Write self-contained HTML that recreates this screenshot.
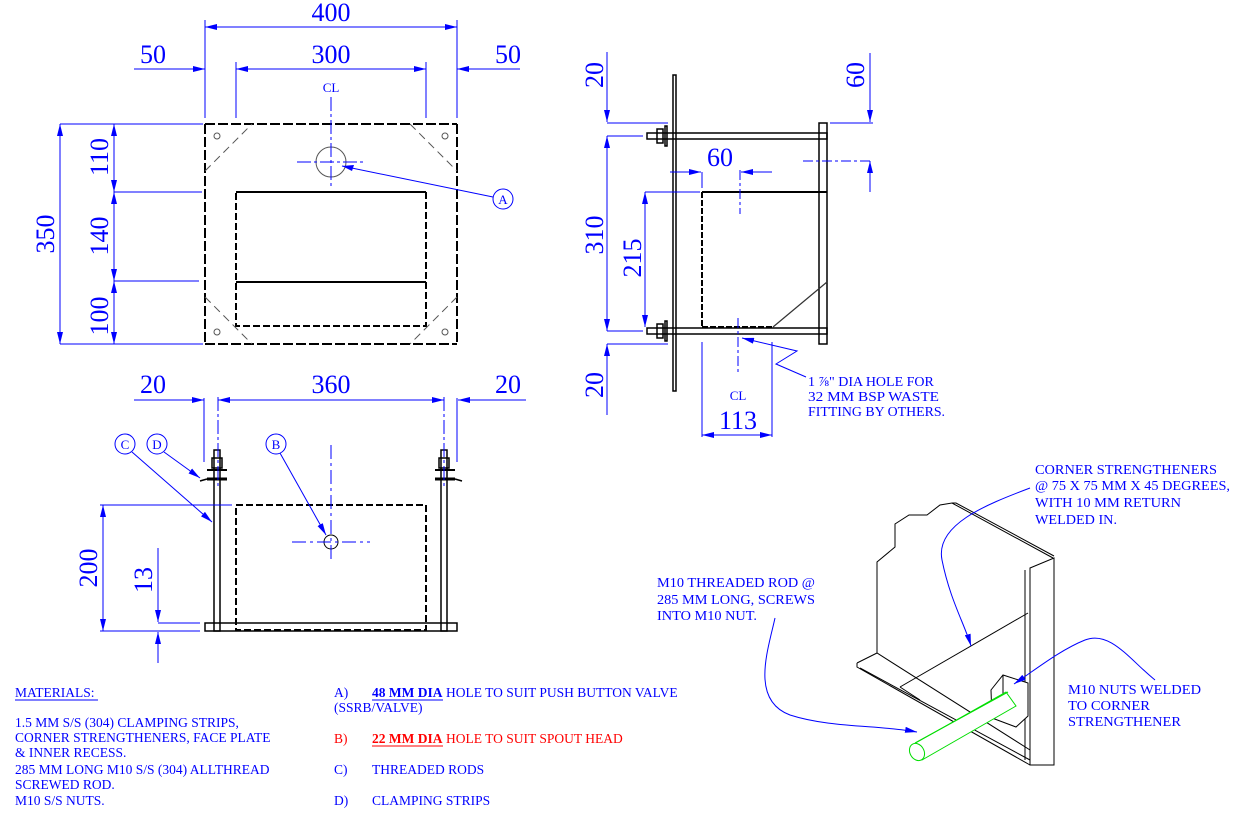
<!DOCTYPE html>
<html><head><meta charset="utf-8"><style>
html,body{margin:0;padding:0;background:#fff;}
svg{display:block;}
text{font-family:"Liberation Serif",serif;}
</style></head><body>
<svg width="1241" height="813" viewBox="0 0 1241 813" xmlns="http://www.w3.org/2000/svg">
<defs>
<marker id="ar" viewBox="0 0 12 6" refX="12" refY="3" markerWidth="12" markerHeight="6" markerUnits="userSpaceOnUse" orient="auto"><path d="M0,0 L12,3 L0,6 z" fill="#0000ff"/></marker>
</defs>

<!-- ============ FRONT VIEW ============ -->
<g fill="none" stroke="#000" stroke-width="2">
<line x1="205" y1="124" x2="457" y2="124" stroke-dasharray="10,3"/>
<line x1="205" y1="344" x2="457" y2="344" stroke-dasharray="10,3"/>
<line x1="205" y1="124" x2="205" y2="344" stroke-dasharray="10,3"/>
<line x1="457" y1="124" x2="457" y2="344" stroke-dasharray="10,3"/>
<rect x="236" y="192" width="190" height="134" stroke-dasharray="7,3"/>
<line x1="236" y1="282" x2="426" y2="282"/>
<line x1="236" y1="192" x2="426" y2="192"/>
</g>
<g fill="none" stroke="#555" stroke-width="1">
<line x1="205" y1="171" x2="252" y2="124" stroke-dasharray="8,5"/>
<line x1="410" y1="124" x2="457" y2="171" stroke-dasharray="8,5"/>
<line x1="205" y1="297" x2="252" y2="344" stroke-dasharray="8,5"/>
<line x1="457" y1="297" x2="410" y2="344" stroke-dasharray="8,5"/>
<circle cx="217" cy="136" r="3"/><circle cx="445" cy="136" r="3"/>
<circle cx="217" cy="332" r="3"/><circle cx="445" cy="332" r="3"/>
<circle cx="331" cy="162" r="15"/>
</g>
<g fill="none" stroke="#0000ff" stroke-width="1">
<line x1="331" y1="97" x2="331" y2="186" stroke-dasharray="14,3,3,3"/>
<line x1="297" y1="162" x2="366" y2="162" stroke-dasharray="14,3,3,3"/>
<line x1="342" y1="166" x2="493" y2="197"/>
<circle cx="503" cy="199" r="10"/>
<line x1="205" y1="20" x2="205" y2="118"/><line x1="457" y1="20" x2="457" y2="118"/>
<line x1="236" y1="62" x2="236" y2="118"/><line x1="426" y1="62" x2="426" y2="118"/>
<line x1="331" y1="27" x2="205" y2="27" marker-end="url(#ar)"/>
<line x1="331" y1="27" x2="457" y2="27" marker-end="url(#ar)"/>
<line x1="331" y1="69" x2="236" y2="69" marker-end="url(#ar)"/>
<line x1="331" y1="69" x2="426" y2="69" marker-end="url(#ar)"/>
<line x1="134" y1="69" x2="205" y2="69" marker-end="url(#ar)"/>
<line x1="520" y1="69" x2="457" y2="69" marker-end="url(#ar)"/>
<line x1="60" y1="124" x2="203" y2="124"/><line x1="60" y1="344" x2="203" y2="344"/>
<line x1="114" y1="192" x2="202" y2="192"/><line x1="114" y1="281" x2="199" y2="281"/>
<line x1="60" y1="234" x2="60" y2="124" marker-end="url(#ar)"/>
<line x1="60" y1="234" x2="60" y2="344" marker-end="url(#ar)"/>
<line x1="114" y1="158" x2="114" y2="124" marker-end="url(#ar)"/>
<line x1="114" y1="158" x2="114" y2="192" marker-end="url(#ar)"/>
<line x1="114" y1="236" x2="114" y2="192" marker-end="url(#ar)"/>
<line x1="114" y1="236" x2="114" y2="281" marker-end="url(#ar)"/>
<line x1="114" y1="312" x2="114" y2="281" marker-end="url(#ar)"/>
<line x1="114" y1="312" x2="114" y2="344" marker-end="url(#ar)"/>
</g>
<polygon points="342,166 354,165 352,171" fill="#0000ff"/>
<g fill="#0000ff" font-size="26">
<text x="331" y="21" text-anchor="middle">400</text>
<text x="331" y="63" text-anchor="middle">300</text>
<text x="153" y="63" text-anchor="middle">50</text>
<text x="508" y="63" text-anchor="middle">50</text>
<text transform="translate(54,234) rotate(-90)" text-anchor="middle">350</text>
<text transform="translate(108,157) rotate(-90)" text-anchor="middle">110</text>
<text transform="translate(108,236) rotate(-90)" text-anchor="middle">140</text>
<text transform="translate(108,316) rotate(-90)" text-anchor="middle">100</text>
</g>
<g fill="#0000ff" font-size="13">
<text x="331" y="92" text-anchor="middle">CL</text>
<text x="503" y="204" text-anchor="middle">A</text>
</g>

<!-- ============ SIDE VIEW ============ -->
<g fill="none" stroke="#000" stroke-width="1.5">
<rect x="673" y="75" width="3" height="316"/>
<rect x="647" y="133" width="180" height="6"/>
<rect x="647" y="328" width="180" height="6"/>
<rect x="819" y="123" width="8" height="221"/>
<rect x="657" y="129" width="6" height="14"/><rect x="665" y="126" width="2" height="20"/>
<rect x="657" y="324" width="6" height="14"/><rect x="665" y="321" width="2" height="20"/>
<line x1="702" y1="192" x2="827" y2="192" stroke-width="2"/>
<line x1="702" y1="192" x2="702" y2="327" stroke-dasharray="6,2" stroke-width="2"/>
<line x1="702" y1="327" x2="773" y2="327" stroke-dasharray="6,2" stroke-width="2"/>
<line x1="773" y1="327" x2="827" y2="282" stroke-width="1.2" stroke="#333"/>
</g>
<g fill="none" stroke="#0000ff" stroke-width="1">
<line x1="607" y1="52" x2="607" y2="122" marker-end="url(#ar)"/>
<line x1="607" y1="123" x2="668" y2="123"/>
<line x1="607" y1="136" x2="643" y2="136"/>
<line x1="607" y1="331" x2="643" y2="331"/>
<line x1="607" y1="235" x2="607" y2="136" marker-end="url(#ar)"/>
<line x1="607" y1="235" x2="607" y2="331" marker-end="url(#ar)"/>
<line x1="607" y1="344" x2="668" y2="344"/>
<line x1="607" y1="415" x2="607" y2="344" marker-end="url(#ar)"/>
<line x1="645" y1="192" x2="700" y2="192"/>
<line x1="645" y1="258" x2="645" y2="192" marker-end="url(#ar)"/>
<line x1="645" y1="258" x2="645" y2="327" marker-end="url(#ar)"/>
<line x1="870" y1="53" x2="870" y2="122" marker-end="url(#ar)"/>
<line x1="830" y1="123" x2="873" y2="123"/>
<line x1="870" y1="192" x2="870" y2="161" marker-end="url(#ar)"/>
<line x1="803" y1="161" x2="873" y2="161" stroke-dasharray="10,3,3,3"/>
<line x1="670" y1="172" x2="701" y2="172" marker-end="url(#ar)"/>
<line x1="702" y1="172" x2="702" y2="188"/>
<line x1="772" y1="172" x2="741" y2="172" marker-end="url(#ar)"/>
<line x1="740" y1="170" x2="740" y2="214" stroke-dasharray="10,3,3,3"/>
<line x1="738" y1="318" x2="738" y2="373" stroke-dasharray="10,3,3,3"/>
<line x1="702" y1="342" x2="702" y2="437"/>
<line x1="772" y1="342" x2="772" y2="437"/>
<line x1="738" y1="435" x2="702" y2="435" marker-end="url(#ar)"/>
<line x1="738" y1="435" x2="772" y2="435" marker-end="url(#ar)"/>
<polyline points="806,377 776,364 797,351 742,338" marker-end="url(#ar)"/>
</g>
<g fill="#0000ff" font-size="26">
<text transform="translate(603,75) rotate(-90)" text-anchor="middle">20</text>
<text transform="translate(603,235) rotate(-90)" text-anchor="middle">310</text>
<text transform="translate(603,385) rotate(-90)" text-anchor="middle">20</text>
<text transform="translate(641,258) rotate(-90)" text-anchor="middle">215</text>
<text transform="translate(864,75) rotate(-90)" text-anchor="middle">60</text>
<text x="720" y="166" text-anchor="middle">60</text>
<text x="738" y="429" text-anchor="middle">113</text>
</g>
<g fill="#0000ff" font-size="14">
<text x="738" y="400" text-anchor="middle" font-size="13">CL</text>
<text x="808" y="386">1 ⅞" DIA HOLE FOR</text>
<text x="808" y="401" textLength="131" lengthAdjust="spacingAndGlyphs">32 MM BSP WASTE</text>
<text x="808" y="416" textLength="137" lengthAdjust="spacingAndGlyphs">FITTING BY OTHERS.</text>
</g>

<!-- ============ BOTTOM VIEW ============ -->
<g fill="none" stroke="#000" stroke-width="1.5">
<rect x="205" y="623" width="252" height="8"/>
<rect x="214" y="450" width="6" height="181"/>
<rect x="441" y="450" width="6" height="181"/>
<rect x="212" y="458" width="10" height="10"/>
<rect x="439" y="458" width="10" height="10"/>
<line x1="207" y1="470" x2="227" y2="470" stroke-width="2"/>
<line x1="207" y1="479" x2="227" y2="479" stroke-width="3"/>
<line x1="435" y1="470" x2="455" y2="470" stroke-width="2"/>
<line x1="435" y1="479" x2="455" y2="479" stroke-width="3"/>
<line x1="200" y1="481" x2="207" y2="479"/>
<line x1="455" y1="479" x2="462" y2="481"/>
<rect x="236" y="505" width="190" height="125" stroke-dasharray="7,3" stroke-width="2"/>
<circle cx="331" cy="542" r="7" stroke-width="1"/>
</g>
<g fill="none" stroke="#0000ff" stroke-width="1">
<line x1="331" y1="445" x2="331" y2="563" stroke-dasharray="14,4,3,4"/>
<line x1="292" y1="542" x2="370" y2="542" stroke-dasharray="14,4,3,4"/>
<line x1="134" y1="400" x2="204" y2="400" marker-end="url(#ar)"/>
<line x1="204" y1="398" x2="204" y2="462"/>
<line x1="218" y1="397" x2="218" y2="488" stroke-dasharray="14,3,3,3"/>
<line x1="444" y1="397" x2="444" y2="488" stroke-dasharray="14,3,3,3"/>
<line x1="331" y1="400" x2="218" y2="400" marker-end="url(#ar)"/>
<line x1="331" y1="400" x2="444" y2="400" marker-end="url(#ar)"/>
<line x1="526" y1="400" x2="458" y2="400" marker-end="url(#ar)"/>
<line x1="457" y1="398" x2="457" y2="462"/>
<circle cx="125" cy="444" r="10"/><circle cx="157" cy="444" r="10"/><circle cx="276" cy="444" r="10"/>
<line x1="132" y1="452" x2="212" y2="522" marker-end="url(#ar)"/>
<line x1="164" y1="452" x2="200" y2="478" marker-end="url(#ar)"/>
<line x1="280" y1="453" x2="326" y2="535" marker-end="url(#ar)"/>
<line x1="100" y1="505" x2="232" y2="505"/>
<line x1="100" y1="631" x2="200" y2="631"/>
<line x1="103" y1="568" x2="103" y2="505" marker-end="url(#ar)"/>
<line x1="103" y1="568" x2="103" y2="631" marker-end="url(#ar)"/>
<line x1="158" y1="623" x2="200" y2="623"/>
<line x1="158" y1="548" x2="158" y2="622" marker-end="url(#ar)"/>
<line x1="158" y1="663" x2="158" y2="632" marker-end="url(#ar)"/>
</g>
<g fill="#0000ff" font-size="26">
<text x="153" y="393" text-anchor="middle">20</text>
<text x="331" y="393" text-anchor="middle">360</text>
<text x="508" y="393" text-anchor="middle">20</text>
<text transform="translate(97,568) rotate(-90)" text-anchor="middle">200</text>
<text transform="translate(152,580) rotate(-90)" text-anchor="middle">13</text>
</g>
<g fill="#0000ff" font-size="13">
<text x="125" y="449" text-anchor="middle">C</text>
<text x="157" y="449" text-anchor="middle">D</text>
<text x="276" y="449" text-anchor="middle">B</text>
</g>

<!-- ============ ISOMETRIC ============ -->
<g fill="none" stroke="#000" stroke-width="1">
<polyline points="877,653 877,562 895,547 895,524 909,515 927,515 940,505 952,503 1053,558"/>
<polyline points="952,503 956,503 1054,556"/>
<polygon points="1030,568 1054,558 1054,765 1030,765" fill="#fff"/>
<line x1="1025" y1="570" x2="1025" y2="760"/>
<polyline points="857,663 877,653 1030,750"/>
<polyline points="857,663 857,667 1030,765"/>
<line x1="860" y1="668" x2="1030" y2="760"/>
<line x1="900" y1="687" x2="1028" y2="613"/>
<line x1="900" y1="687" x2="920" y2="700"/>
<polygon points="991,690 1003,675 1028,683 1028,716 1016,727 992,718" fill="#fff"/>
<line x1="1003" y1="675" x2="1003" y2="705"/>
</g>
<g fill="#fff" stroke="#00dd00" stroke-width="1">
<polygon points="912,745 1006,692 1016,706 922,760"/>
<ellipse cx="917" cy="752" rx="7" ry="9" transform="rotate(-30 917 752)"/>
<line x1="915" y1="743" x2="1008" y2="692"/>
</g>
<g fill="none" stroke="#0000ff" stroke-width="1">
<path d="M1030,488 C985,505 935,525 942,560 C950,600 965,625 971,646" marker-end="url(#ar)"/>
<path d="M775,618 C768,650 750,700 790,715 C830,728 880,725 917,732" marker-end="url(#ar)"/>
<path d="M1155,680 C1130,660 1110,630 1085,640 C1060,650 1035,670 1014,684" marker-end="url(#ar)"/>
</g>
<g fill="#0000ff" font-size="14">
<text x="1035" y="474" textLength="182" lengthAdjust="spacingAndGlyphs">CORNER STRENGTHENERS</text>
<text x="1035" y="490" textLength="195" lengthAdjust="spacingAndGlyphs">@ 75 X 75 MM X 45 DEGREES,</text>
<text x="1035" y="507" textLength="146" lengthAdjust="spacingAndGlyphs">WITH 10 MM RETURN</text>
<text x="1035" y="524" textLength="82" lengthAdjust="spacingAndGlyphs">WELDED IN.</text>
<text x="657" y="587" textLength="158" lengthAdjust="spacingAndGlyphs">M10 THREADED ROD @</text>
<text x="657" y="604" textLength="158" lengthAdjust="spacingAndGlyphs">285 MM LONG, SCREWS</text>
<text x="657" y="620" textLength="100" lengthAdjust="spacingAndGlyphs">INTO M10 NUT.</text>
<text x="1068" y="694" textLength="133" lengthAdjust="spacingAndGlyphs">M10 NUTS WELDED</text>
<text x="1068" y="710" textLength="82" lengthAdjust="spacingAndGlyphs">TO CORNER</text>
<text x="1068" y="726" textLength="113" lengthAdjust="spacingAndGlyphs">STRENGTHENER</text>
</g>

<!-- ============ NOTES ============ -->
<g fill="#0000ff" font-size="13.5">
<text x="15" y="697">MATERIALS:</text>
<line x1="15" y1="700" x2="98" y2="700" stroke="#0000ff"/>
<text x="15" y="727">1.5 MM S/S (304) CLAMPING STRIPS,</text>
<text x="15" y="742">CORNER STRENGTHENERS, FACE PLATE</text>
<text x="15" y="757">&amp; INNER RECESS.</text>
<text x="15" y="774">285 MM LONG M10 S/S (304) ALLTHREAD</text>
<text x="15" y="789">SCREWED ROD.</text>
<text x="15" y="805">M10 S/S NUTS.</text>
<text x="334" y="697">A)</text>
<text x="372" y="697" font-weight="bold">48 MM DIA</text>
<line x1="372" y1="700" x2="443" y2="700" stroke="#0000ff"/>
<text x="446" y="697">HOLE TO SUIT PUSH BUTTON VALVE</text>
<text x="334" y="712">(SSRB/VALVE)</text>
<text x="334" y="774">C)</text>
<text x="372" y="774">THREADED RODS</text>
<text x="334" y="805">D)</text>
<text x="372" y="805">CLAMPING STRIPS</text>
</g>
<g fill="#ff0000" font-size="13.5">
<text x="334" y="743">B)</text>
<text x="372" y="743" font-weight="bold">22 MM DIA</text>
<line x1="372" y1="746" x2="443" y2="746" stroke="#ff0000"/>
<text x="446" y="743">HOLE TO SUIT SPOUT HEAD</text>
</g>
</svg>
</body></html>
